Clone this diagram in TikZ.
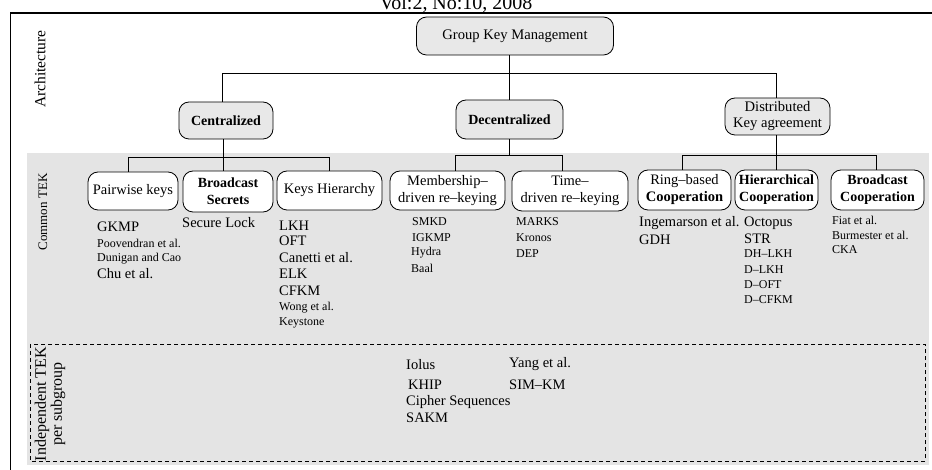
\documentclass[tikz,border=0pt]{standalone}
\usepackage{fontspec}
\setmainfont{Liberation Serif}
\definecolor{bandgray}{HTML}{E4E4E4}
\definecolor{boxgray}{HTML}{E8E8E8}
\begin{document}
\begin{tikzpicture}[x=1pt,y=-1pt,
  topbox/.style={draw, rounded corners=10pt, fill=boxgray, line width=0.8pt, inner sep=0pt, align=center, font=\fontsize{14.6}{16}\selectfont},
  subbox/.style={draw, rounded corners=10pt, fill=white, line width=0.8pt, inner sep=0pt, align=center, font=\fontsize{14.5}{17}\selectfont},
  big/.style={anchor=west, inner sep=0pt, font=\fontsize{14.5}{16}\selectfont},
  small/.style={anchor=west, inner sep=0pt, font=\fontsize{12}{14}\selectfont},
  side/.style={rotate=90, inner sep=0pt, align=center},
  tree/.style={line width=0.8pt}]
\useasboundingbox (0,0) rectangle (932,470);
\clip (0,0) rectangle (932,470);
% header
\node[anchor=base, inner sep=0pt, font=\fontsize{20}{22}\selectfont] (hdr) at (456,9.8) {Vol:2, No:10, 2008};
\draw[line width=1.8pt] (10.5,470) -- (10.5,13) -- (932,13);
% band
\fill[bandgray] (27,153) rectangle (929,465);
\draw[dashed, dash pattern=on 4pt off 3pt, line width=0.7pt] (30,344) rectangle (925,461);
% side labels
\node[side, font=\fontsize{15.5}{17}\selectfont] (arch) at (40,69) {Architecture};
\node[side, font=\fontsize{13}{15}\selectfont] (ctek) at (43,212) {Common TEK};
\node[side, font=\fontsize{16}{16}\selectfont] (itek) at (50,404) {Independent TEK\\per subgroup};
% top level
\node[topbox, minimum width=197, minimum height=38] (gkm) at (515,36) {Group Key Management};
\node[topbox, minimum width=94, minimum height=37, font=\fontsize{14}{16}\selectfont\bfseries] (cent) at (226,120.5) {Centralized};
\node[topbox, minimum width=107, minimum height=39, font=\fontsize{14}{16}\selectfont\bfseries] (dec) at (509.5,119.5) {Decentralized};
\node[topbox, minimum width=105, minimum height=37] (dist) at (777.5,116.5) {Distributed\\Key agreement};
% second level
\node[subbox, minimum width=90, minimum height=38] (pair) at (133,191) {Pairwise keys};
\node[subbox, minimum width=90, minimum height=41, font=\fontsize{14}{17}\selectfont\bfseries] (bsec) at (228,191.5) {Broadcast\\Secrets};
\node[subbox, minimum width=105, minimum height=39] (kh) at (329.5,190.5) {Keys Hierarchy};
\node[subbox, minimum width=115, minimum height=39] (memb) at (447.5,190.5) {Membership--\\driven re--keying};
\node[subbox, minimum width=116, minimum height=40] (time) at (570,191) {Time--\\driven re--keying};
\node[subbox, minimum width=93, minimum height=40] (ring) at (684.5,190) {Ring--based\\\textbf{Cooperation}};
\node[subbox, minimum width=83, minimum height=40, font=\fontsize{14}{17}\selectfont\bfseries] (hier) at (776.5,190) {Hierarchical\\Cooperation};
\node[subbox, minimum width=93, minimum height=40, font=\fontsize{14}{17}\selectfont\bfseries] (bcoop) at (877.5,190) {Broadcast\\Cooperation};
% connectors
\coordinate (j0) at (509,73);
\coordinate (b0L) at (222,73);
\coordinate (b0R) at (776,73);
\draw[tree] (gkm.south -| j0) -- (j0 |- dec.north);
\draw[tree] (b0L |- cent.north) -- (b0L) -- (b0R) -- (b0R |- dist.north);
\coordinate (b1L) at (128,157);
\coordinate (b1M) at (223,157);
\coordinate (b1R) at (329,157);
\draw[tree] (b1M |- cent.south) -- (b1M |- bsec.north);
\draw[tree] (b1L |- pair.north) -- (b1L) -- (b1R) -- (b1R |- kh.north);
\coordinate (b2L) at (455,155);
\coordinate (b2M) at (509,155);
\coordinate (b2R) at (562,155);
\draw[tree] (b2M |- dec.south) -- (b2M);
\draw[tree] (b2L |- memb.north) -- (b2L) -- (b2R) -- (b2R |- time.north);
\coordinate (b3L) at (682,155);
\coordinate (b3M) at (776,155);
\coordinate (b3R) at (876,155);
\draw[tree] (b3M |- dist.south) -- (b3M |- hier.north);
\draw[tree] (b3L |- ring.north) -- (b3L) -- (b3R) -- (b3R |- bcoop.north);
% lists
\node[big] (t1) at (97,227) {GKMP};
\node[small] (t2) at (97,243) {Poovendran et al.};
\node[small] (t3) at (97,259) {Dunigan and Cao};
\node[big] (t4) at (97,274) {Chu et al.};
\node[big] (t5) at (182,223) {Secure Lock};
\node[big] (t6) at (279,226) {LKH};
\node[big] (t7) at (279,241) {OFT};
\node[big] (t8) at (279,258) {Canetti et al.};
\node[big] (t9) at (279,274) {ELK};
\node[big] (t10) at (279,291) {CFKM};
\node[small] (t11) at (279,308) {Wong et al.};
\node[small] (t12) at (279,323) {Keystone};
\node[small] (t13) at (412,222) {SMKD};
\node[small] (t14) at (412,238) {IGKMP};
\node[small] (t15) at (411,253) {Hydra};
\node[small] (t16) at (411,268) {Baal};
\node[small] (t17) at (516,222) {MARKS};
\node[small] (t18) at (516,238) {Kronos};
\node[small] (t19) at (516,254) {DEP};
\node[big] (t20) at (639,223) {Ingemarson et al.};
\node[big] (t21) at (639,240) {GDH};
\node[big] (t22) at (744,223) {Octopus};
\node[big] (t23) at (744,239) {STR};
\node[small] (t24) at (744,254) {DH--LKH};
\node[small] (t25) at (744,270) {D--LKH};
\node[small] (t26) at (744,285) {D--OFT};
\node[small] (t27) at (744,300) {D--CFKM};
\node[small] (t28) at (832,220) {Fiat et al.};
\node[small] (t29) at (832,235) {Burmester et al.};
\node[small] (t30) at (832,250) {CKA};
\node[big] (t31) at (406,365) {Iolus};
\node[big] (t32) at (408,385) {KHIP};
\node[big] (t33) at (406,402) {Cipher Sequences};
\node[big] (t34) at (406,418) {SAKM};
\node[big] (t35) at (509,364) {Yang et al.};
\node[big] (t36) at (509,385) {SIM--KM};
\end{tikzpicture}
\end{document}
